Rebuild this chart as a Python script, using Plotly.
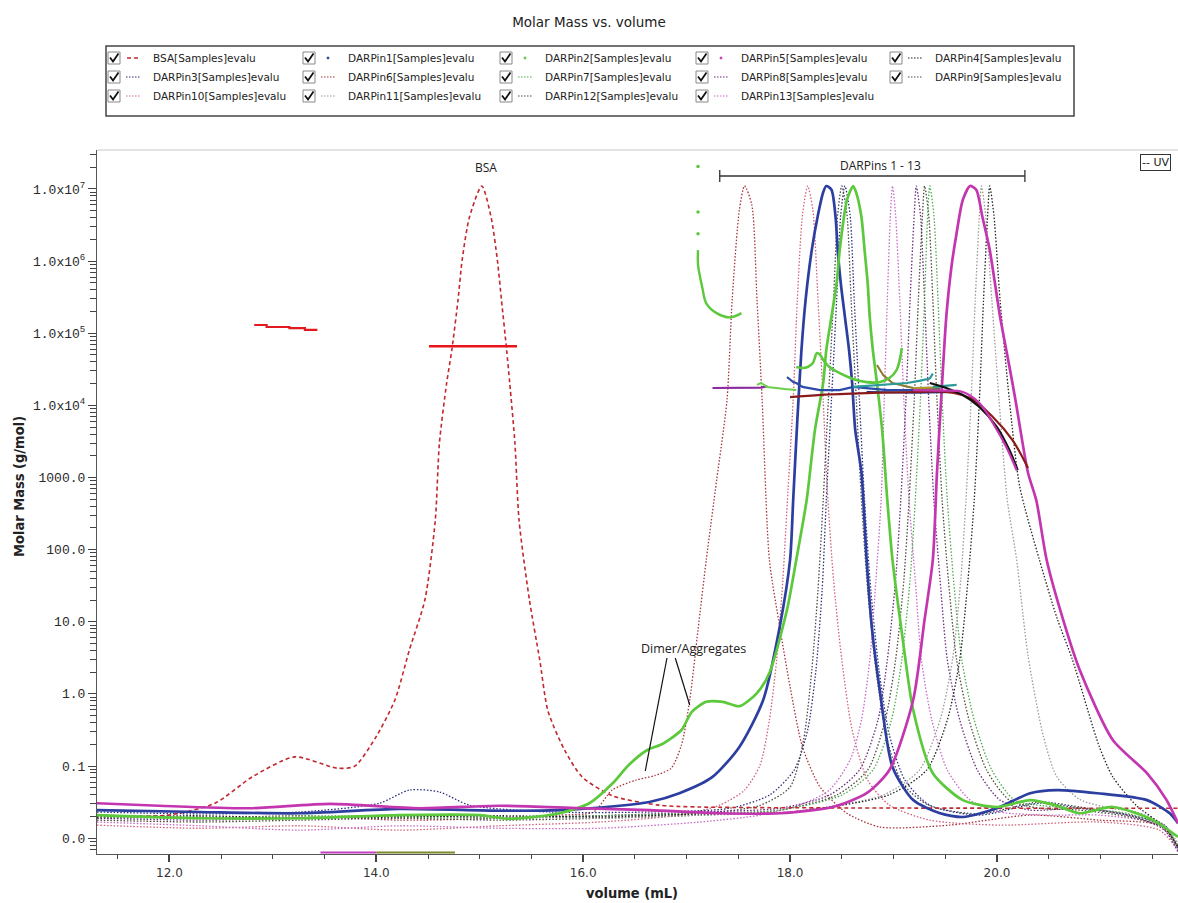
import plotly.graph_objects as go

# ======================= DATA =======================
# --- UV traces (normalised UV signal, relative units) ---
bsa_uv_vol = [11.30, 11.99, 12.44, 12.80, 13.21, 13.62, 13.79, 13.99, 14.18, 14.32,
              14.47, 14.57, 14.61, 14.68, 14.73, 14.79, 14.83, 14.90, 15.02, 15.11,
              15.17, 15.21, 15.26, 15.29, 15.34, 15.38, 15.48, 15.58, 15.66, 15.82,
              15.99, 16.28, 16.73, 17.11, 21.75]
bsa_uv = [-0.005, -0.005, 0.014, 0.056, 0.088, 0.070, 0.073, 0.118, 0.179, 0.259,
          0.339, 0.466, 0.589, 0.685, 0.738, 0.818, 0.882, 0.950, 1.000, 0.950,
          0.882, 0.818, 0.738, 0.685, 0.589, 0.466, 0.339, 0.243, 0.161, 0.099,
          0.056, 0.026, 0.011, 0.008, 0.006]

d1_uv_vol = [11.30, 12.29, 13.26, 14.22, 15.19, 15.77, 16.35, 16.64, 16.93, 17.25,
             17.51, 17.74, 17.90, 18.00, 18.03, 18.07, 18.11, 18.15, 18.21, 18.27,
             18.32, 18.35, 18.40, 18.44, 18.46, 18.49, 18.53, 18.57, 18.60, 18.63,
             18.69, 18.74, 18.79, 18.87, 18.99, 19.19, 19.45, 19.67, 20.00, 20.32,
             20.58, 20.97, 21.45, 21.67, 21.75]
d1_uv = [0.003, 0.000, -0.002, 0.005, 0.002, 0.003, 0.010, 0.016, 0.030, 0.056,
         0.104, 0.179, 0.296, 0.403, 0.498, 0.626, 0.738, 0.818, 0.898, 0.954,
         0.990, 1.000, 0.994, 0.950, 0.898, 0.845, 0.791, 0.738, 0.685, 0.610,
         0.542, 0.403, 0.296, 0.191, 0.072, 0.019, -0.002, -0.008, 0.006, 0.030,
         0.035, 0.030, 0.019, -0.002, -0.018]

d2_uv_vol = [11.30, 12.29, 13.26, 14.22, 15.00, 15.29, 15.77, 16.06, 16.28, 16.44,
             16.62, 16.77, 16.95, 17.05, 17.19, 17.35, 17.51, 17.68, 17.80, 17.97,
             18.06, 18.16, 18.24, 18.32, 18.35, 18.40, 18.45, 18.48, 18.55, 18.61,
             18.64, 18.69, 18.72, 18.75, 18.77, 18.80, 18.84, 18.89, 18.94, 18.99,
             19.09, 19.19, 19.38, 19.67, 20.00, 20.32, 20.56, 20.80, 21.12, 21.51,
             21.75]
d2_uv = [-0.005, -0.010, -0.010, -0.005, -0.005, -0.011, -0.002, 0.014, 0.045, 0.075,
         0.099, 0.109, 0.131, 0.160, 0.176, 0.176, 0.169, 0.190, 0.222, 0.323,
         0.403, 0.498, 0.610, 0.685, 0.738, 0.791, 0.845, 0.898, 0.978, 1.000,
         0.989, 0.950, 0.898, 0.845, 0.791, 0.738, 0.685, 0.610, 0.498, 0.403,
         0.275, 0.163, 0.062, 0.019, 0.008, 0.019, 0.011, -0.002, 0.008, -0.013,
         -0.040]

d5_uv_vol = [11.30, 11.90, 12.77, 13.55, 14.42, 15.19, 15.97, 16.64, 17.32, 17.90,
             18.41, 18.74, 18.96, 19.19, 19.30, 19.38, 19.42, 19.46, 19.51, 19.56,
             19.61, 19.67, 19.74, 19.80, 19.86, 19.93, 19.98, 20.03, 20.09, 20.15,
             20.19, 20.30, 20.38, 20.48, 20.64, 20.80, 21.12, 21.45, 21.64, 21.75]
d5_uv = [0.014, 0.010, 0.006, 0.013, 0.006, 0.010, 0.006, 0.003, -0.002, -0.002,
         0.008, 0.030, 0.067, 0.179, 0.307, 0.403, 0.542, 0.658, 0.791, 0.871,
         0.925, 0.978, 1.000, 0.994, 0.950, 0.898, 0.845, 0.791, 0.738, 0.685,
         0.647, 0.542, 0.498, 0.403, 0.307, 0.227, 0.115, 0.062, 0.019, -0.018]

d6_uv_vol = [11.30, 12.29, 13.26, 14.22, 15.19, 15.77, 16.10, 16.28, 16.51, 16.69,
             16.85, 16.95, 17.03, 17.11, 17.19, 17.29, 17.39, 17.44, 17.51, 17.56,
             17.63, 17.68, 17.73, 17.80, 17.90, 18.00, 18.12, 18.29, 18.55, 18.87,
             19.54, 20.32, 20.99, 21.57, 21.75]
d6_uv = [-0.005, -0.010, -0.006, -0.013, -0.010, -0.005, 0.000, 0.035, 0.051, 0.058,
         0.070, 0.107, 0.179, 0.291, 0.403, 0.530, 0.658, 0.818, 0.962, 1.000,
         0.970, 0.818, 0.658, 0.403, 0.296, 0.200, 0.104, 0.040, -0.002, -0.024,
         -0.021, -0.005, -0.013, -0.021, -0.053]

d10_uv_vol = [11.30, 12.29, 13.26, 14.22, 15.19, 16.16, 16.93, 17.32, 17.56, 17.71,
              17.80, 17.87, 17.93, 17.98, 18.03, 18.07, 18.12, 18.17, 18.22, 18.27,
              18.32, 18.36, 18.42, 18.50, 18.60, 18.75, 18.96, 19.35, 20.03, 20.99,
              21.57, 21.75]
d10_uv = [-0.021, -0.026, -0.022, -0.029, -0.022, -0.016, -0.005, 0.011, 0.035, 0.075,
          0.147, 0.243, 0.371, 0.514, 0.658, 0.818, 0.954, 1.000, 0.962, 0.818,
          0.658, 0.514, 0.371, 0.243, 0.131, 0.051, 0.011, -0.013, -0.021, -0.016,
          -0.029, -0.061]

d3_uv_vol = [11.30, 12.29, 13.26, 14.03, 14.32, 14.61, 14.90, 15.68, 16.64, 17.42,
             17.80, 18.04, 18.17, 18.25, 18.31, 18.35, 18.40, 18.45, 18.49, 18.53,
             18.58, 18.62, 18.67, 18.72, 18.78, 18.86, 18.96, 19.11, 19.35, 19.83,
             20.41, 20.80, 21.28, 21.62, 21.75]
d3_uv = [0.000, -0.003, 0.000, 0.014, 0.035, 0.032, 0.011, 0.000, 0.000, 0.006,
         0.027, 0.067, 0.131, 0.227, 0.355, 0.498, 0.658, 0.818, 0.954, 1.000,
         0.954, 0.818, 0.658, 0.498, 0.355, 0.227, 0.123, 0.051, 0.011, -0.005,
         0.014, 0.006, -0.005, -0.021, -0.058]

d9_uv_vol = [11.30, 12.29, 13.26, 14.22, 15.19, 16.16, 17.13, 17.70, 18.00, 18.13,
             18.21, 18.27, 18.32, 18.37, 18.42, 18.46, 18.50, 18.55, 18.59, 18.64,
             18.69, 18.75, 18.83, 18.94, 19.09, 19.35, 19.83, 20.41, 20.80, 21.28,
             21.62, 21.75]
d9_uv = [-0.010, -0.008, -0.010, -0.006, -0.008, -0.006, -0.002, 0.010, 0.040, 0.115,
         0.227, 0.355, 0.498, 0.658, 0.818, 0.954, 1.000, 0.954, 0.818, 0.658,
         0.498, 0.355, 0.227, 0.115, 0.045, 0.010, -0.003, 0.016, 0.008, -0.006,
         -0.024, -0.058]

d13_uv_vol = [11.30, 12.29, 13.26, 14.22, 15.19, 16.16, 17.13, 17.71, 18.09, 18.38,
              18.58, 18.69, 18.77, 18.83, 18.88, 18.91, 18.94, 18.97, 18.99, 19.02,
              19.06, 19.10, 19.15, 19.21, 19.27, 19.37, 19.52, 19.74, 20.03, 20.51,
              20.99, 21.57, 21.75]
d13_uv = [-0.016, -0.022, -0.029, -0.022, -0.026, -0.026, -0.016, -0.005, 0.011, 0.035,
          0.083, 0.147, 0.243, 0.371, 0.498, 0.658, 0.818, 0.954, 1.000, 0.954,
          0.818, 0.658, 0.498, 0.371, 0.243, 0.147, 0.067, 0.019, 0.000, -0.005,
          -0.005, -0.021, -0.061]

d8_uv_vol = [11.30, 12.29, 13.26, 14.22, 15.19, 16.16, 17.13, 17.90, 18.38, 18.67,
             18.85, 18.94, 19.02, 19.07, 19.12, 19.16, 19.20, 19.22, 19.26, 19.30,
             19.34, 19.39, 19.45, 19.52, 19.64, 19.81, 20.03, 20.32, 20.80, 21.28,
             21.62, 21.75]
d8_uv = [-0.010, -0.013, -0.010, -0.005, -0.010, -0.006, 0.000, 0.006, 0.027, 0.067,
         0.147, 0.243, 0.371, 0.498, 0.658, 0.818, 0.954, 1.000, 0.954, 0.818,
         0.658, 0.498, 0.371, 0.243, 0.147, 0.067, 0.019, 0.003, 0.006, -0.005,
         -0.029, -0.064]

d12_uv_vol = [11.30, 12.29, 13.26, 14.22, 15.19, 16.16, 17.13, 17.90, 18.45, 18.75,
              18.92, 19.02, 19.10, 19.15, 19.20, 19.24, 19.28, 19.30, 19.34, 19.38,
              19.42, 19.47, 19.53, 19.61, 19.73, 19.90, 20.12, 20.41, 20.80, 21.28,
              21.62, 21.75]
d12_uv = [-0.013, -0.016, -0.013, -0.010, -0.013, -0.010, -0.005, 0.003, 0.027, 0.067,
          0.147, 0.243, 0.371, 0.498, 0.658, 0.818, 0.954, 1.000, 0.954, 0.818,
          0.658, 0.498, 0.371, 0.243, 0.147, 0.067, 0.019, 0.006, 0.003, -0.008,
          -0.026, -0.058]

d7_uv_vol = [11.30, 12.29, 13.26, 14.22, 15.19, 16.16, 17.13, 17.90, 18.50, 18.80,
             18.98, 19.08, 19.16, 19.21, 19.26, 19.30, 19.33, 19.35, 19.39, 19.43,
             19.47, 19.52, 19.58, 19.66, 19.78, 19.95, 20.17, 20.45, 20.80, 21.28,
             21.62, 21.75]
d7_uv = [-0.008, -0.010, -0.006, -0.008, -0.010, -0.006, -0.002, 0.003, 0.027, 0.067,
         0.147, 0.243, 0.371, 0.498, 0.658, 0.818, 0.954, 1.000, 0.954, 0.818,
         0.658, 0.498, 0.371, 0.243, 0.147, 0.067, 0.019, 0.010, 0.006, -0.003,
         -0.024, -0.056]

d11_uv_vol = [11.30, 12.29, 13.26, 14.22, 15.19, 16.16, 17.13, 18.00, 18.90, 19.25,
              19.45, 19.57, 19.65, 19.70, 19.75, 19.79, 19.83, 19.85, 19.89, 19.95,
              20.02, 20.10, 20.19, 20.30, 20.45, 20.58, 20.80, 21.10, 21.35, 21.62,
              21.75]
d11_uv = [-0.006, -0.010, -0.008, -0.006, -0.008, -0.010, -0.005, 0.000, 0.027, 0.067,
          0.147, 0.243, 0.371, 0.498, 0.658, 0.818, 0.954, 1.000, 0.954, 0.818,
          0.658, 0.498, 0.403, 0.250, 0.120, 0.056, 0.020, 0.006, 0.000, -0.021,
          -0.050]

d4_uv_vol = [11.30, 12.29, 13.26, 14.22, 15.19, 16.16, 17.13, 18.00, 18.95, 19.32,
             19.52, 19.64, 19.72, 19.78, 19.83, 19.87, 19.91, 19.93, 19.97, 20.03,
             20.12, 20.22, 20.41, 20.58, 20.73, 20.99, 21.12, 21.35, 21.62, 21.75]
d4_uv = [-0.008, -0.006, -0.010, -0.008, -0.006, -0.008, -0.003, 0.000, 0.027, 0.067,
         0.147, 0.243, 0.371, 0.498, 0.658, 0.818, 0.954, 1.000, 0.954, 0.818,
         0.658, 0.520, 0.403, 0.310, 0.243, 0.104, 0.056, 0.010, -0.024, -0.056]

# --- Molar mass traces (g/mol) ---
bsa_mm_vol = [14.51, 14.90, 15.36]
bsa_mm = [66000, 66000, 66000]
bsa_dimer_mm_vol = [12.82, 12.94, 13.16, 13.31, 13.42]
bsa_dimer_mm = [130000, 122000, 118000, 111000, 107000]

d2_agg_dots_vol = [17.11, 17.11, 17.11]
d2_agg_dots_mm = [2.04e7, 4.8e6, 2.4e6]
d2_agg_mm_vol = [17.11, 17.11, 17.13, 17.15, 17.19, 17.29, 17.42, 17.53]
d2_agg_mm = [1.42e6, 8.9e5, 6.0e5, 4.4e5, 2.6e5, 1.9e5, 1.66e5, 1.9e5]
d2_mm_vol = [18.06, 18.12, 18.17, 18.22, 18.26, 18.29, 18.32, 18.38, 18.48, 18.61,
             18.74, 18.87, 18.96, 19.03, 19.08]
d2_mm = [34000, 32900, 34000, 38600, 53000, 50000, 42800, 34000, 28000, 23200,
         21000, 21000, 23900, 30900, 62400]

d7_mm_vol = [17.68, 17.72, 17.78, 17.85, 17.95, 18.06]
d7_mm = [19200, 20400, 18000, 17400, 16800, 16300]
d6_mm_vol = [17.25, 17.55, 17.72, 17.78]
d6_mm = [17400, 17400, 17600, 18500]
d1_mm_vol = [17.97, 18.03, 18.06, 18.12, 18.29, 18.48, 18.61, 18.74, 18.94, 19.19, 19.45]
d1_mm = [24700, 21000, 20400, 18000, 16300, 16300, 18000, 17400, 16300, 16300, 17400]
d3_mm_vol = [18.61, 18.87, 19.13, 19.26, 19.35, 19.38]
d3_mm = [18000, 19200, 20400, 22000, 23500, 27500]
d3b_mm_vol = [19.38, 19.50, 19.61]
d3b_mm = [18000, 18800, 19200]
d12_mm_vol = [18.84, 18.90, 18.99, 19.19, 19.45]
d12_mm = [36200, 26300, 20400, 17400, 16300]
d10_mm_vol = [18.00, 18.30, 18.74, 19.20, 19.51, 19.74, 19.96, 20.15, 20.30]
d10_mm = [13000, 14000, 14800, 15300, 15300, 12600, 6900, 3300, 1350]
d4_mm_vol = [19.35, 19.51, 19.67, 19.83, 20.00, 20.12, 20.20]
d4_mm = [20400, 17400, 13900, 9500, 5000, 2400, 1260]
d5_mm_vol = [19.19, 19.45, 19.67, 19.83, 19.96, 20.09, 20.19]
d5_mm = [16300, 16000, 15300, 10800, 5700, 2640, 1260]
d8_mm_vol = [18.74, 19.20, 19.61]
d8_mm = [15300, 15000, 15300]
d9_mm_vol = [19.19, 19.45]
d9_mm = [17400, 17800]
low_a_vol = [13.46, 14.00]
low_a_mm = [0.0063, 0.0063]
low_b_vol = [14.00, 14.76]
low_b_mm = [0.0063, 0.0063]

# --- series names / colours / legend ---
legend_names = ["BSA", "DARPin1", "DARPin2", "DARPin5", "DARPin4",
                "DARPin3", "DARPin6", "DARPin7", "DARPin8", "DARPin9",
                "DARPin10", "DARPin11", "DARPin12", "DARPin13"]
colors = {"BSA": "#c0282d", "DARPin1": "#2c3ea0", "DARPin2": "#5cc83c",
          "DARPin5": "#c436b0", "DARPin4": "#222222", "DARPin3": "#2a2f7a",
          "DARPin6": "#a8323c", "DARPin7": "#4caa4c", "DARPin8": "#6a2a7a",
          "DARPin9": "#4a4a4a", "DARPin10": "#d0607a", "DARPin11": "#9a9a9a",
          "DARPin12": "#4a4a3a", "DARPin13": "#c66ac6"}
legend_symbol = {"BSA": "dash", "DARPin1": "dot", "DARPin2": "dot", "DARPin5": "dot"}

y_tickvals = [0.01, 0.1, 1, 10, 100, 1000, 1e4, 1e5, 1e6, 1e7]
y_ticktext = ["0.0", "0.1", "1.0", "10.0", "100.0", "1000.0",
              "1.0x10<sup>4</sup>", "1.0x10<sup>5</sup>", "1.0x10<sup>6</sup>", "1.0x10<sup>7</sup>"]
x_tickvals = [12, 14, 16, 18, 20]
x_ticktext = ["12.0", "14.0", "16.0", "18.0", "20.0"]

# ======================= FIGURE =======================
W, H = 1178, 903
ML, MR, MT, MB = 97, 0, 150, 49
PW, PH = W - ML - MR, H - MT - MB


def fx(px):
    return (px - ML) / PW


def fy(py):
    return (H - MB - py) / PH


fig = go.Figure()

thin_uv = [("DARPin6", d6_uv_vol, d6_uv), ("DARPin10", d10_uv_vol, d10_uv),
           ("DARPin3", d3_uv_vol, d3_uv), ("DARPin9", d9_uv_vol, d9_uv),
           ("DARPin13", d13_uv_vol, d13_uv), ("DARPin8", d8_uv_vol, d8_uv),
           ("DARPin12", d12_uv_vol, d12_uv), ("DARPin7", d7_uv_vol, d7_uv),
           ("DARPin11", d11_uv_vol, d11_uv), ("DARPin4", d4_uv_vol, d4_uv)]
for name, xv, yv in thin_uv:
    fig.add_trace(go.Scatter(x=xv, y=yv, mode="lines", name=name + " UV",
                             line=dict(color=colors[name], width=1.3, dash="1.5px,1.8px",
                                       shape="spline", smoothing=0.7),
                             yaxis="y", showlegend=False))

fig.add_trace(go.Scatter(x=bsa_uv_vol, y=bsa_uv, mode="lines", name="BSA UV",
                         line=dict(color=colors["BSA"], width=1.6, dash="4px,3px",
                                   shape="spline", smoothing=0.7),
                         yaxis="y", showlegend=False))
for name, xv, yv in [("DARPin1", d1_uv_vol, d1_uv), ("DARPin2", d2_uv_vol, d2_uv),
                     ("DARPin5", d5_uv_vol, d5_uv)]:
    fig.add_trace(go.Scatter(x=xv, y=yv, mode="lines", name=name + " UV",
                             line=dict(color=colors[name], width=2.7, shape="spline",
                                       smoothing=0.7),
                             yaxis="y", showlegend=False))

mm_traces = [
    (bsa_mm_vol, bsa_mm, "#e8161b", 2.6, "linear"),
    (bsa_dimer_mm_vol, bsa_dimer_mm, "#e01a1f", 2.2, "hv"),
    (d6_mm_vol, d6_mm, "#8a2a9e", 2.2, "linear"),
    (d7_mm_vol, d7_mm, "#6ad04a", 2.0, "linear"),
    (d1_mm_vol, d1_mm, "#2c4aa8", 2.2, "linear"),
    (d12_mm_vol, d12_mm, "#8a7a2a", 2.0, "linear"),
    (d9_mm_vol, d9_mm, "#b09a30", 2.0, "linear"),
    (d8_mm_vol, d8_mm, "#2a2a80", 2.0, "linear"),
    (d3_mm_vol, d3_mm, "#2a9a9a", 2.2, "linear"),
    (d3b_mm_vol, d3b_mm, "#2a9a9a", 2.2, "linear"),
    (d10_mm_vol, d10_mm, "#8b1a1a", 2.2, "spline"),
    (d4_mm_vol, d4_mm, "#111111", 2.2, "spline"),
    (d5_mm_vol, d5_mm, "#c436b0", 2.2, "spline"),
    (d2_mm_vol, d2_mm, "#5cc83c", 2.6, "spline"),
    (d2_agg_mm_vol, d2_agg_mm, "#5cc83c", 2.4, "spline"),
    (low_a_vol, low_a_mm, "#c040c0", 2.0, "linear"),
    (low_b_vol, low_b_mm, "#7a8a2a", 2.0, "linear"),
]
for xv, yv, c, w, sh in mm_traces:
    fig.add_trace(go.Scatter(x=xv, y=yv, mode="lines", line=dict(color=c, width=w, shape=sh),
                             yaxis="y2", showlegend=False))
fig.add_trace(go.Scatter(x=d2_agg_dots_vol, y=d2_agg_dots_mm, mode="markers",
                         marker=dict(color="#5cc83c", size=3.5), yaxis="y2", showlegend=False))

minor_x = [v / 2 for v in range(23, 44) if v % 4 != 0]
minor_y = [m * 10 ** e for e in range(-3, 8) for m in range(2, 10)]

fig.update_layout(
    width=W, height=H,
    margin=dict(l=ML, r=MR, t=MT, b=MB),
    paper_bgcolor="white", plot_bgcolor="white",
    showlegend=False,
    title=dict(text="Molar Mass vs. volume", x=0.5, xanchor="center", y=1 - 22 / H,
               yanchor="middle", font=dict(family="DejaVu Sans", size=13.5, color="#222")),
    xaxis=dict(range=[11.30, 21.75], showgrid=False, zeroline=False, showline=True,
               linecolor="#555", linewidth=1.2, ticks="outside", ticklen=7, tickwidth=1.5,
               tickcolor="#444", tickmode="array", tickvals=x_tickvals, ticktext=x_ticktext,
               tickfont=dict(family="DejaVu Sans", size=12, color="#333"),
               minor=dict(tickmode="array", tickvals=minor_x, ticks="outside", ticklen=4,
                          tickcolor="#444", tickwidth=1.2),
               anchor="y"),
    yaxis=dict(range=[-0.0671, 1.0575], visible=False, showgrid=False, zeroline=False),
    yaxis2=dict(type="log", range=[-2.22, 7.54], overlaying="y", side="left", anchor="x",
                showgrid=False, zeroline=False, showline=True, linecolor="#555",
                linewidth=1.2, ticks="outside", ticklen=8, tickwidth=1.2, tickcolor="#444",
                tickmode="array", tickvals=y_tickvals, ticktext=y_ticktext,
                tickfont=dict(family="Liberation Mono", size=13, color="#2a2a2a"),
                minor=dict(tickmode="array", tickvals=minor_y, ticks="outside", ticklen=6,
                           tickcolor="#444", tickwidth=1)),
)

shapes = []
annotations = []


def note(text, x, y, xref="paper", size=12, family="Open Sans", xanchor="center", **kw):
    d = dict(text=text, xref=xref, yref="paper", x=x, y=y, xanchor=xanchor,
             yanchor="middle", showarrow=False,
             font=dict(family=family, size=size, color="#222"))
    d.update(kw)
    annotations.append(d)


# top frame line
shapes.append(dict(type="line", xref="paper", yref="paper", x0=0, x1=1, y0=1, y1=1,
                   line=dict(color="#c8c8c8", width=1)))

# axis titles
note("<b>Molar Mass (g/mol)</b>", fx(19), fy(487), size=14.5, family="DejaVu Sans Condensed",
     textangle=-90)
note("<b>volume (mL)</b>", fx(632), fy(893), size=14.5, family="DejaVu Sans Condensed")

# chart annotations
note("BSA", 15.06, fy(167), xref="x")
note("DARPins 1 - 13", 18.87, fy(165), xref="x")
shapes.append(dict(type="line", xref="x", yref="paper", x0=17.32, x1=20.27,
                   y0=fy(176), y1=fy(176), line=dict(color="#333", width=1.3)))
for xv in (17.32, 20.27):
    shapes.append(dict(type="line", xref="x", yref="paper", x0=xv, x1=xv,
                       y0=fy(170), y1=fy(182), line=dict(color="#333", width=1.3)))
note("Dimer/Aggregates", 17.07, fy(648), xref="x", size=12.5)
shapes.append(dict(type="line", xref="x", yref="paper", x0=16.81, x1=16.60,
                   y0=fy(658), y1=fy(771), line=dict(color="#111", width=1.2)))
shapes.append(dict(type="line", xref="x", yref="paper", x0=16.89, x1=17.03,
                   y0=fy(658), y1=fy(705), line=dict(color="#111", width=1.2)))
note("-- UV", fx(1140), fy(162), size=11, family="DejaVu Sans", xanchor="left",
     bordercolor="#333", borderwidth=1, borderpad=1, bgcolor="white")

# legend box (drawn manually to reproduce the checkbox grid)
shapes.append(dict(type="rect", xref="paper", yref="paper", x0=fx(106), x1=fx(1074),
                   y0=fy(116), y1=fy(46), line=dict(color="#444", width=1.5)))
col_x = [114, 309, 506, 702, 896]
row_y = [58, 77, 96]
for i, name in enumerate(legend_names):
    cx, ry = col_x[i % 5], row_y[i // 5]
    shapes.append(dict(type="rect", xref="paper", yref="paper", x0=fx(cx - 6), x1=fx(cx + 6),
                       y0=fy(ry + 6), y1=fy(ry - 6), line=dict(color="#888", width=1),
                       fillcolor="white"))
    check = "M {:.5f},{:.5f} L {:.5f},{:.5f} L {:.5f},{:.5f}".format(
        fx(cx - 4), fy(ry - 0.5), fx(cx - 1), fy(ry + 3.5), fx(cx + 4.5), fy(ry - 4.5))
    shapes.append(dict(type="path", xref="paper", yref="paper", path=check,
                       line=dict(color="#111", width=1.8)))
    sym = legend_symbol.get(name, "dotted")
    c = colors[name]
    if sym == "dash":
        shapes.append(dict(type="line", xref="paper", yref="paper", x0=fx(cx + 13),
                           x1=fx(cx + 25), y0=fy(ry), y1=fy(ry),
                           line=dict(color=c, width=1.6, dash="4px,3px")))
    elif sym == "dot":
        shapes.append(dict(type="circle", xref="paper", yref="paper", x0=fx(cx + 18),
                           x1=fx(cx + 20), y0=fy(ry + 1), y1=fy(ry - 1),
                           line=dict(color=c, width=1), fillcolor=c))
    else:
        shapes.append(dict(type="line", xref="paper", yref="paper", x0=fx(cx + 12),
                           x1=fx(cx + 26), y0=fy(ry), y1=fy(ry),
                           line=dict(color=c, width=1.2, dash="1.5px,1.5px")))
    note(name + "[Samples]evalu", fx(cx + 37), fy(ry), size=10.5, family="DejaVu Sans",
         xanchor="left")

fig.update_layout(shapes=shapes, annotations=annotations)

fig.write_html("out.html", config={"displayModeBar": False},
               post_script="document.body.style.margin='0';")
